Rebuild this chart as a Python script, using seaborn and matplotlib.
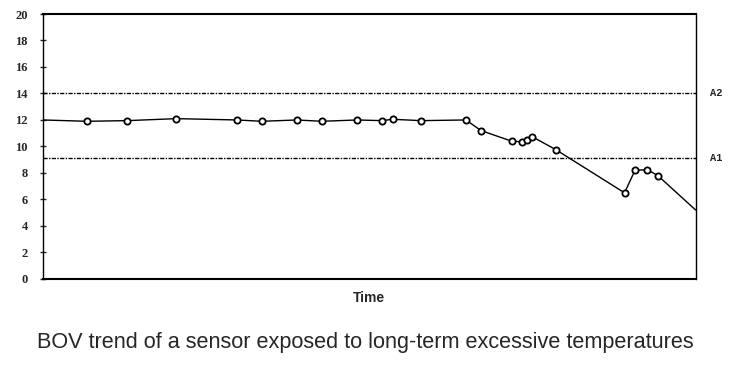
import numpy as np
import pandas as pd
import matplotlib
matplotlib.use("Agg")
import matplotlib.pyplot as plt
import seaborn as sns

# BOV readings over time (time in arbitrary units 0-100)
time = [0, 6.7, 12.9, 20.4, 29.7, 33.5, 38.9, 42.7, 48.1, 51.9, 53.6, 57.9,
        64.8, 67.1, 71.8, 73.4, 74.1, 74.9, 78.6, 89.1, 90.7, 92.6, 94.2, 100]
bov = [12.0, 11.9, 11.95, 12.1, 12.0, 11.9, 12.0, 11.9, 12.0, 11.95, 12.05, 11.95,
       12.0, 11.2, 10.4, 10.35, 10.5, 10.75, 9.75, 6.5, 8.2, 8.25, 7.8, 5.2]

alarm_labels = ["A2", "A1"]
alarm_levels = [14.0, 9.1]
y_ticks = [0, 2, 4, 6, 8, 10, 12, 14, 16, 18, 20]

sns.set_style("white")
plt.rcParams['font.family'] = ['DejaVu Sans']

df = pd.DataFrame({"Time": time, "BOV": bov})

fig = plt.figure(figsize=(7.3, 3.89), dpi=100)
ax = fig.add_axes([0.059, 0.283, 0.894, 0.681])

sns.lineplot(data=df, x="Time", y="BOV", ax=ax, color="black", linewidth=1.0,
             marker="o", markersize=4.5, markerfacecolor="white",
             markeredgecolor="black", markeredgewidth=1.3,
             markevery=list(range(1, len(time) - 1)))

# alarm thresholds
for lab, lvl in zip(alarm_labels, alarm_levels):
    ax.axhline(lvl, color="black", linestyle=(0, (3, 1, 1, 1)), linewidth=1.0)
    ax.text(1.022, lvl, lab, transform=ax.get_yaxis_transform(),
            fontsize=7.5, fontweight="bold", va="center", ha="left",
            family="Liberation Mono")

ax.set_xlim(0, 100)
ax.set_ylim(0, 20)
ax.set_yticks(y_ticks)
ax.set_yticklabels([str(t) for t in y_ticks], fontsize=9, fontweight="bold",
                   family="Liberation Serif")
ax.set_xticks([])
ax.tick_params(axis="y", direction="inout", length=4, width=1, left=True, pad=9)

for side in ["left", "right"]:
    ax.spines[side].set_linestyle((0, (3, 1, 1, 1)))
    ax.spines[side].set_linewidth(1.0)
for side in ["top", "bottom"]:
    ax.spines[side].set_linewidth(1.5)
for s in ax.spines.values():
    s.set_color("black")

ax.set_xlabel("Time", fontsize=10, fontweight="bold", labelpad=9,
              family="Liberation Sans")
ax.set_ylabel("")

fig.text(0.5, 0.12, "BOV trend of a sensor exposed to long-term excessive temperatures",
         ha="center", va="center", fontsize=15.6, family="Liberation Sans")

fig.savefig("out.png", dpi=100)
